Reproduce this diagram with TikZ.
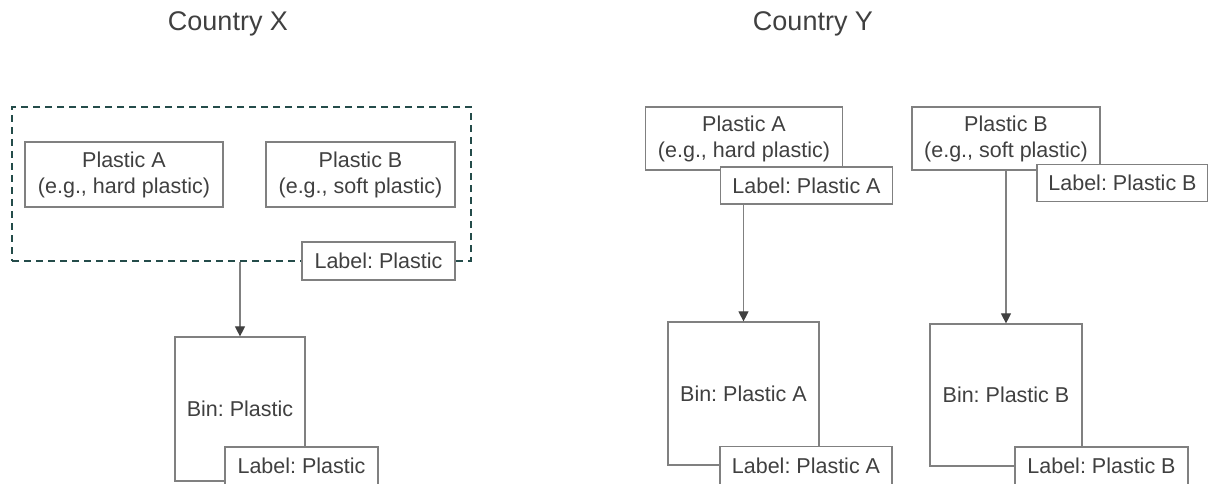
\documentclass[tikz,border=0pt]{standalone}
\usepackage{fontspec}
\setmainfont{Liberation Sans}
\frenchspacing
\usetikzlibrary{arrows.meta}
\definecolor{txt}{HTML}{404040}
\definecolor{edge}{HTML}{808080}
\definecolor{teal}{RGB}{36,76,74}
\begin{document}
\begin{tikzpicture}[x=1pt,y=-1pt,
  box/.style={draw=edge, line width=1.2pt, fill=white, text=txt, inner sep=0pt,
    align=center, font=\fontsize{21.5}{26}\selectfont},
  title/.style={text=txt, inner sep=0pt, font=\fontsize{27}{30}\selectfont},
  grpbox/.style={draw=teal, line width=1.8pt, dash pattern=on 7pt off 5pt, inner sep=0pt},
  arr/.style={draw=edge, line width=1.1pt, -{Triangle[width=10pt,length=10pt,fill=txt,color=txt]}}]
\useasboundingbox (0,0) rectangle (1208,484);
% titles
\node[title] (tx) at (228,24) {Country X};
\node[title] (ty) at (813,24) {Country Y};
% Country X
\node[grpbox, minimum width=459pt, minimum height=154pt] (grp) at (241.5,184) {};
\node[box, minimum width=198pt, minimum height=65pt] (xa) at (124,174.5) {Plastic A\\(e.g., hard plastic)};
\node[box, minimum width=189pt, minimum height=65pt] (xb) at (360.5,174.5) {Plastic B\\(e.g., soft plastic)};
\node[box, minimum width=153pt, minimum height=38pt] (xlab) at (378.5,261) {Label: Plastic};
\node[box, minimum width=130pt, minimum height=144pt] (xbin) at (240,409) {Bin: Plastic};
\node[box, minimum width=153pt, minimum height=38pt] (xbinlab) at (301.5,466) {Label: Plastic};
\draw[arr] (xbin.north |- grp.south) -- (xbin.north);
% Country Y
\node[box, minimum width=197pt, minimum height=63pt] (ya) at (744,138.5) {Plastic A\\(e.g., hard plastic)};
\node[box, minimum width=172pt, minimum height=37pt] (yalab) at (806.5,185.5) {Label: Plastic A};
\node[box, minimum width=188pt, minimum height=63pt] (yb) at (1006,138.5) {Plastic B\\(e.g., soft plastic)};
\node[box, minimum width=171pt, minimum height=37pt] (yblab) at (1122.5,183) {Label: Plastic B};
\node[box, minimum width=151pt, minimum height=143pt] (yabin) at (743.5,393.5) {Bin: Plastic A};
\node[box, minimum width=172pt, minimum height=38pt] (yabinlab) at (806,465.5) {Label: Plastic A};
\node[box, minimum width=152pt, minimum height=142pt] (ybbin) at (1006,395) {Bin: Plastic B};
\node[box, minimum width=173pt, minimum height=38pt] (ybbinlab) at (1101.5,466) {Label: Plastic B};
\draw[arr] (yabin.north |- yalab.south) -- (yabin.north);
\draw[arr] (yb.south) -- (ybbin.north);
\end{tikzpicture}
\end{document}
